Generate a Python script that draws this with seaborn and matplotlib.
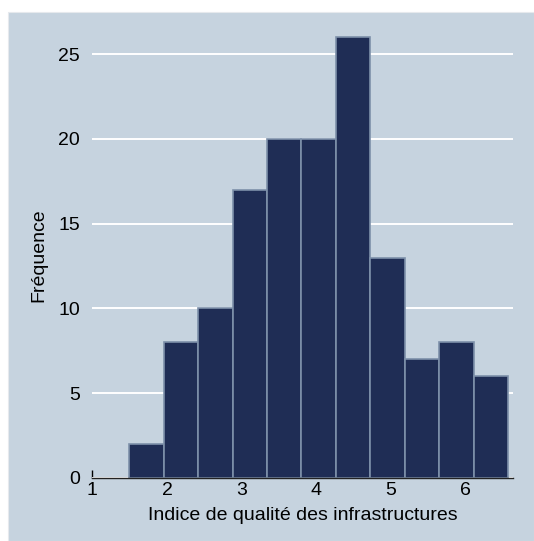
import matplotlib
matplotlib.use("Agg")
import matplotlib.pyplot as plt
import seaborn as sns
import numpy as np
import pandas as pd

# Histogram counts of the infrastructure quality index
bin_start = 1.495
bin_width = 0.4613
counts = [2, 8, 10, 17, 20, 20, 26, 13, 7, 8, 6]
x_ticks = [1, 2, 3, 4, 5, 6]
y_ticks = [0, 5, 10, 15, 20, 25]

edges = bin_start + bin_width * np.arange(len(counts) + 1)
centers = (edges[:-1] + edges[1:]) / 2
df = pd.DataFrame({"indice": centers, "n": counts})

bg = "#c6d3df"
bar_color = "#1f2d55"
edge_color = "#7d90aa"

sns.set_theme(style="white")
plt.rcParams["font.family"] = ["Liberation Sans", "DejaVu Sans"]
plt.rcParams["text.color"] = "black"
plt.rcParams["axes.labelcolor"] = "black"
plt.rcParams["xtick.color"] = "black"
plt.rcParams["ytick.color"] = "black"

fig = plt.figure(figsize=(5.34, 5.41), dpi=100)
fig.patch.set_facecolor("white")
fig.patches.append(plt.Rectangle((8 / 534, 0), 1 - 8 / 534, (541 - 12) / 541,
                                 transform=fig.transFigure, facecolor=bg,
                                 edgecolor="#e6e9ed", linewidth=0.8, zorder=-10))

ax = fig.add_axes([92.3 / 534, 63 / 541, (512.7 - 92.3) / 534, 446 / 541])
ax.set_zorder(1)
ax.set_facecolor(bg)

sns.histplot(data=df, x="indice", weights="n", bins=list(edges), ax=ax,
             color=bar_color, alpha=1, edgecolor=edge_color, linewidth=1.2,
             zorder=3)

ax.set_xlim(1, 6.63)
ax.set_ylim(0, 26.3)
ax.set_xticks(x_ticks)
ax.set_yticks(y_ticks)
ax.grid(axis="y", color="white", linewidth=1.4, zorder=1)
ax.grid(axis="x", visible=False)
ax.set_axisbelow(True)

for side in ["top", "right", "left"]:
    ax.spines[side].set_visible(False)
ax.spines["bottom"].set_color("#222222")
ax.spines["bottom"].set_linewidth(1.0)
ax.spines["bottom"].set_zorder(5)

ax.tick_params(axis="x", direction="in", length=6, width=1, color="black",
               labelcolor="black", labelsize=14, pad=3, bottom=True)
ax.tick_params(axis="y", length=0, labelcolor="black", labelsize=14, pad=9,
               left=True)
for t in ax.get_xticklines():
    t.set_zorder(6)

ax.set_xlabel("Indice de qualité des infrastructures", fontsize=14,
              labelpad=6, color="black")
ax.set_ylabel("Fréquence", fontsize=14, labelpad=8, color="black")

fig.savefig("out.png", dpi=100)
